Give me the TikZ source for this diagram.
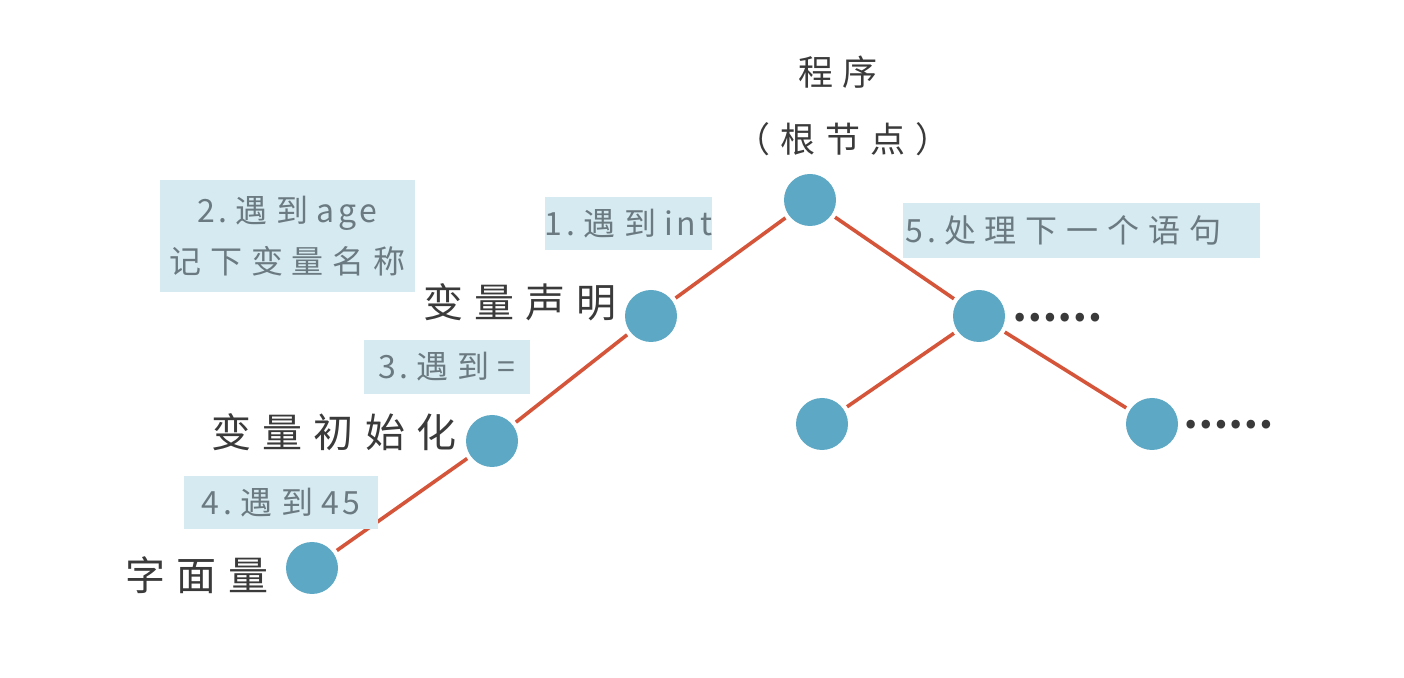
\documentclass[tikz,border=0pt]{standalone}
\usepackage{fontspec}
\newfontfamily\cjk{Noto Sans CJK SC}[LetterSpace=28]
\newfontfamily\lat{Noto Sans CJK SC}[LetterSpace=12]
\newfontfamily\cjkdots{Noto Sans CJK SC}
\newcommand{\gap}{\kern0.25em}

\definecolor{nodeblue}{RGB}{93,168,197}
\definecolor{edgered}{RGB}{212,85,58}
\definecolor{notebg}{RGB}{214,234,241}
\definecolor{notetext}{RGB}{107,122,128}
\definecolor{nametext}{RGB}{58,58,58}

\begin{document}
\begin{tikzpicture}[x=0.5pt, y=-0.5pt,
	treenode/.style={circle, fill=nodeblue, minimum size=26pt, inner sep=0pt},
	edge/.style={draw=edgered, line width=1.8pt, shorten <=2pt, shorten >=2pt},
	note/.style={fill=notebg, text=notetext, inner sep=0pt, font=\cjk\fontsize{16}{25.5}\selectfont},
	namelabel/.style={text=nametext, inner sep=0pt, font=\cjk\fontsize{20}{24}\selectfont},
	roottext/.style={text=nametext, inner sep=0pt, font=\cjk\fontsize{17.5}{20}\selectfont},
	moredots/.style={text=nametext, inner sep=0pt, font=\cjkdots\bfseries\fontsize{20}{20}\selectfont}]
	\useasboundingbox (0,0) rectangle (1404,678);

	% tree nodes
	\node (root) at (810,200) [treenode] {};
	\node (decl) at (651,316) [treenode] {};
	\node (init) at (492,441) [treenode] {};
	\node (lit) at (312,568) [treenode] {};
	\node (next) at (979,316) [treenode] {};
	\node (next-l) at (822,424) [treenode] {};
	\node (next-r) at (1152,424) [treenode] {};

	\draw[edge] (root) to (decl);
	\draw[edge] (decl) to (init);
	\draw[edge] (init) to (lit);
	\draw[edge] (root) to (next);
	\draw[edge] (next) to (next-l);
	\draw[edge] (next) to (next-r);

	% names
	\node (root-name) at (838,72) [roottext] {程序};
	\node (root-sub) at (843,139) [roottext] {（根节点）};
	\node (decl-name) at (520,302) [namelabel] {变量声明};
	\node (init-name) at (334,432) [namelabel] {变量初始化};
	\node (lit-name) at (197,575) [namelabel] {字面量};
	\node (next-dots) at (1057,318) [moredots] {……};
	\node (next-r-dots) at (1228,425) [moredots] {……};

	% steps
	\node (step-int) at (628.5,223.5) [note, minimum width=83.5pt, minimum height=26.5pt] {{\lat 1.}\gap 遇到\gap{\lat int}};
	\node (step-age) at (287.5,236) [note, minimum width=127.5pt, minimum height=56pt, align=center] {{\lat 2.}\gap 遇到\gap{\lat age}\\记下变量名称};
	\node (step-eq) at (447,367) [note, minimum width=83pt, minimum height=27pt] {{\lat 3.}\gap 遇到\gap{\lat =}};
	\node (step-num) at (281,502.5) [note, minimum width=97pt, minimum height=26.5pt] {{\lat 4.}\gap 遇到\gap{\lat 45}};
	\node (step-next) at (1081.5,230.5) [note, minimum width=178.5pt, minimum height=27.5pt, text width=176pt, align=left] {{\lat 5.}\gap 处理下一个语句};
\end{tikzpicture}
\end{document}
